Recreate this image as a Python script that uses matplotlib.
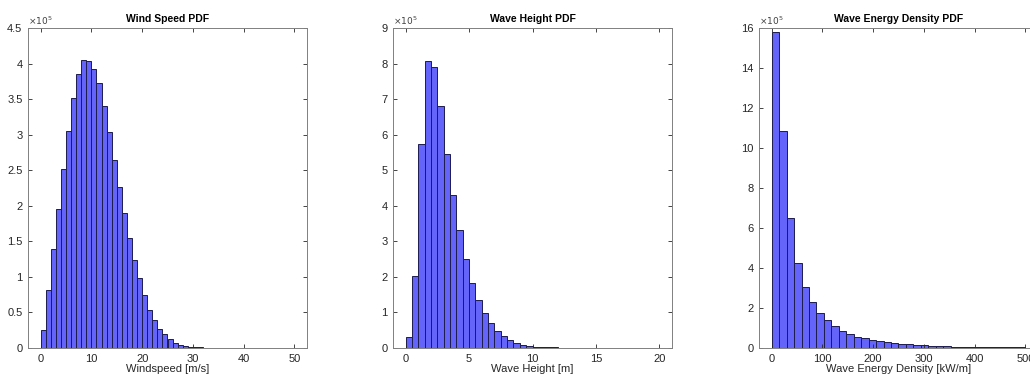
import numpy as np
import matplotlib.pyplot as plt

plt.rcParams['font.family'] = ['Liberation Sans', 'DejaVu Sans']

# bin edges
wind_edges = np.arange(0, 44, 1.0)
wave_edges = np.arange(0, 16.51, 0.5)
energy_edges = np.arange(0, 35) * 14.7

# counts in units of 1e5
wind_counts = [0.26, 0.81, 1.39, 1.96, 2.52, 3.05, 3.52, 3.85, 4.05, 4.03,
               3.93, 3.73, 3.40, 3.04, 2.65, 2.27, 1.90, 1.55, 1.24, 0.98,
               0.74, 0.54, 0.39, 0.27, 0.19, 0.12, 0.075, 0.045, 0.027, 0.016,
               0.011, 0.008, 0.006, 0.005, 0.004, 0.004, 0.003, 0.003, 0.003, 0.003,
               0.003, 0.003, 0.003]
wave_counts = [0.32, 2.03, 5.74, 8.06, 7.89, 6.81, 5.47, 4.30, 3.33, 2.49,
               1.83, 1.34, 0.98, 0.70, 0.47, 0.33, 0.22, 0.14, 0.094, 0.058,
               0.040, 0.028, 0.020, 0.015, 0.012, 0.010, 0.008, 0.007, 0.006, 0.006,
               0.005, 0.005, 0.005]
energy_counts = [15.79, 10.85, 6.48, 4.24, 3.06, 2.28, 1.76, 1.38, 1.08, 0.86,
                 0.70, 0.57, 0.48, 0.41, 0.35, 0.30, 0.26, 0.22, 0.19, 0.16,
                 0.14, 0.12, 0.10, 0.085, 0.072, 0.062, 0.053, 0.045, 0.040, 0.036,
                 0.033, 0.030, 0.028, 0.026]

titles = ["Wind Speed PDF", "Wave Height PDF", "Wave Energy Density PDF"]
xlabels = ["Windspeed [m/s]", "Wave Height [m]", "Wave Energy Density [kW/m]"]

W, H = 1030, 374
fig = plt.figure(figsize=(W / 100, H / 100), dpi=100)

def add_panel(x0, edges, counts, xlim, ylim, xticks, yticks, title, xlabel):
    ax = fig.add_axes([x0 / W, 26 / H, 279 / W, 320 / H])
    ax.bar(edges[:-1], counts, width=np.diff(edges), align='edge',
           color='#6464fa', edgecolor='#1c1c50', linewidth=0.7)
    ax.set_xlim(xlim)
    ax.set_ylim(ylim)
    ax.set_xticks(xticks)
    ax.set_yticks(yticks)
    ax.set_yticklabels([f"{t:g}" for t in yticks])
    ax.tick_params(direction='in', length=3, width=0.6, labelsize=8,
                   colors='#262626', top=True, right=True, pad=4)
    for s in ax.spines.values():
        s.set_color('#808080')
        s.set_linewidth(0.7)
    ax.set_title(title, fontsize=7.5, fontweight='bold', pad=4)
    ax.set_xlabel(xlabel, fontsize=8, color='#262626', labelpad=0.5)
    ax.text(0.0, 1.003, r"$\times10^5$", transform=ax.transAxes, fontsize=6.5,
            color='#404040', ha='left', va='bottom')
    return ax

add_panel(28, wind_edges, wind_counts, (-2.5, 52.5), (0, 4.5),
          range(0, 51, 10), np.arange(0, 4.51, 0.5), titles[0], xlabels[0])
add_panel(393, wave_edges, wave_counts, (-1, 21), (0, 9),
          range(0, 21, 5), range(0, 10), titles[1], xlabels[1])
add_panel(759, energy_edges, energy_counts, (-25, 525), (0, 16),
          range(0, 501, 100), range(0, 17, 2), titles[2], xlabels[2])

fig.savefig("out.png", dpi=100)
